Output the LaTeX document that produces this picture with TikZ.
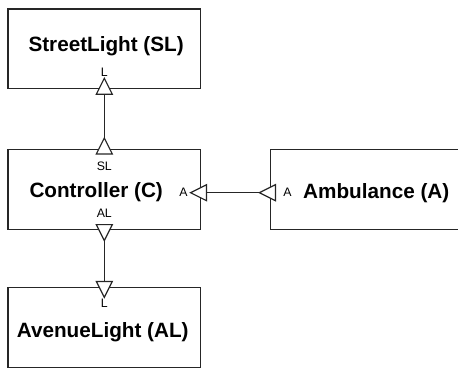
\documentclass[tikz,border=0pt]{standalone}
\usepackage{fontspec}
\setmainfont{Liberation Sans}
\usetikzlibrary{calc}
\begin{document}
\begin{tikzpicture}[x=1pt,y=1pt,
  box/.style={draw=black!85, line width=1.2pt, minimum width=192.7pt, minimum height=80pt, inner sep=0pt},
  title/.style={inner sep=0pt, anchor=base west, font=\bfseries\fontsize{20.7}{24}\selectfont},
  lbl/.style={inner sep=0pt, font=\fontsize{12.3}{14}\selectfont},
  conn/.style={draw=black!85, line width=1.2pt},
  portstyle/.style={draw=black!85, line width=1.2pt, fill=white, line join=miter},
  port/.pic={
    \draw[portstyle] (-8,-5.3) -- (8,-5.3) -- (0,10.7) -- cycle;
    \coordinate (-tip) at (0,10.7);
    \coordinate (-base) at (0,-5.3);
  }]
\useasboundingbox (0,0) rectangle (458,-369);
\clip (0,0) rectangle (458,-369);
% boxes
\node[box, minimum height=79.3pt] (sl) at (104.3,-48.7) {};
\node[box] (c) at (104.3,-189.3) {};
\node[box] (al) at (104.3,-327.3) {};
\node[box, minimum width=200pt] (amb) at (370.7,-189.3) {};
% titles
\node[title] (slt) at (28.3,-51.7) {StreetLight (SL)};
\node[title] (ct) at (29.3,-197.5) {Controller (C)};
\node[title] (ambt) at (303,-198) {Ambulance (A)};
\node[title] (alt) at (16.7,-337.5) {AvenueLight (AL)};
% port anchors
\coordinate (q1) at (sl.south);
\coordinate (q2) at (c.north);
\coordinate (q3) at (c.south);
\coordinate (q4) at (al.north);
\coordinate (q5) at ($(c.east)+(0,-3.4)$);
\coordinate (q6) at ($(amb.west)+(0,-3.4)$);
% connectors
\path (q1) pic (p1) {port};
\path (q2) pic (p2) {port};
\path (q3) pic[rotate=180] (p3) {port};
\path (q4) pic[rotate=180] (p4) {port};
\path (q5) pic[rotate=90] (p5) {port};
\path (q6) pic[rotate=90] (p6) {port};
\draw[conn] (p1-base) -- (p2-tip);
\draw[conn] (p3-tip) -- (p4-base);
\draw[conn] (p5-base) -- (p6-tip);
% labels
\node[lbl, anchor=south] (l1) at ($(q1)+(0,12)$) {L};
\node[lbl, anchor=north] (l2) at ($(q2)+(0,-13.5)$) {SL};
\node[lbl, anchor=south] (l3) at ($(q3)+(0,12.3)$) {AL};
\node[lbl, anchor=north] (l4) at ($(q4)+(0,-12)$) {L};
\node[lbl, anchor=east] (l5) at ($(q5)+(-13.5,0)$) {A};
\node[lbl, anchor=west] (l6) at ($(q6)+(13,0)$) {A};
\end{tikzpicture}
\end{document}
